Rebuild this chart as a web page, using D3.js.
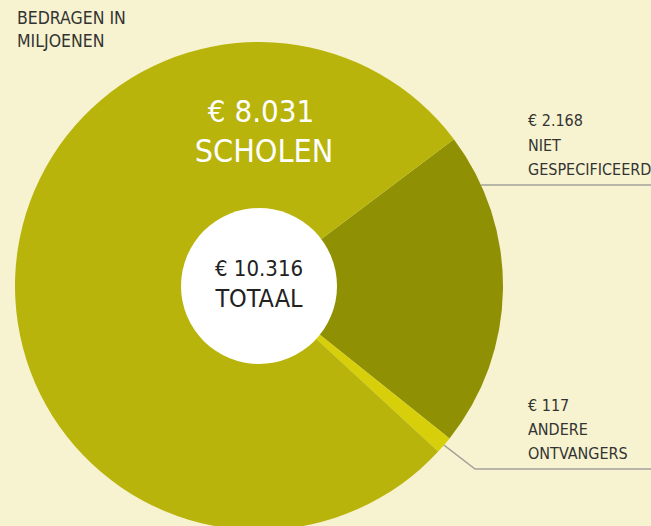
<!DOCTYPE html>
<html>
<head>
<meta charset="utf-8">
<script src="https://cdn.jsdelivr.net/npm/d3@7"></script>
<style>
  html, body { margin: 0; padding: 0; background: #f7f3d0; }
  svg { display: block; }
  text { font-family: "Liberation Sans Narrow", "DejaVu Sans Condensed", sans-serif; }
</style>
</head>
<body>
<div id="chart"></div>
<script>
const width = 651;
const height = 526;

// data (bedragen in miljoenen euro)
const categories = ["NIET GESPECIFICEERD", "ANDERE ONTVANGERS", "SCHOLEN"];
const values = [2168, 117, 8031];
const valueLabels = ["€ 2.168", "€ 117", "€ 8.031"];
const colors = ["#8f9003", "#d8cf0b", "#b8b40b"];
const totalLabel = "€ 10.316";

const cx = 259, cy = 286;
const outerR = 244, innerR = 78;
const startDeg = 53;

var svg = d3.select("#chart").
append("svg").
attr("width", width).
attr("height", height);

svg.append("rect").
attr("width", width).
attr("height", height).
attr("fill", "#f7f3d0");

var pie = d3.pie().
sort(null).
startAngle(startDeg * Math.PI / 180).
endAngle(startDeg * Math.PI / 180 + 2 * Math.PI);

var arcs = pie(values);

var arc = d3.arc().
innerRadius(0).
outerRadius(outerR);

var g = svg.append("g").
attr("transform", "translate(" + cx + "," + cy + ")");

g.selectAll("path").
data(arcs).
enter().
append("path").
attr("d", arc).
attr("fill", (d, i) => colors[i]);

// white centre
g.append("circle").
attr("r", innerR).
attr("fill", "#ffffff");

// title
var title = svg.append("text").
attr("x", 17).
attr("y", 24).
attr("font-size", 17.5).
attr("fill", "#333333");
title.append("tspan").attr("x", 17).text("BEDRAGEN IN");
title.append("tspan").attr("x", 17).attr("dy", 23).text("MILJOENEN");

// centre label
g.append("text").
attr("text-anchor", "middle").
attr("y", -10).
attr("font-size", 22).
attr("fill", "#222222").
text(totalLabel);
g.append("text").
attr("text-anchor", "middle").
attr("y", 21).
attr("font-size", 25).
attr("fill", "#222222").
text("TOTAAL");

// scholen label inside big slice
g.append("text").
attr("text-anchor", "middle").
attr("x", 2).
attr("y", 122 - cy).
attr("font-size", 31).
attr("fill", "#ffffff").
text(valueLabels[2]);
g.append("text").
attr("text-anchor", "middle").
attr("x", 5).
attr("y", 162 - cy).
attr("font-size", 32).
attr("fill", "#ffffff").
text(categories[2]);

// outside labels
const labelX = 528;
var lab1 = svg.append("text").
attr("y", 126).
attr("font-size", 16).
attr("fill", "#333333");
lab1.append("tspan").attr("x", labelX).text(valueLabels[0]);
lab1.append("tspan").attr("x", labelX).attr("dy", 24.5).text("NIET");
lab1.append("tspan").attr("x", labelX).attr("dy", 24.5).text("GESPECIFICEERD");

var lab2 = svg.append("text").
attr("y", 410.5).
attr("font-size", 16).
attr("fill", "#333333");
lab2.append("tspan").attr("x", labelX).text(valueLabels[1]);
lab2.append("tspan").attr("x", labelX).attr("dy", 24).text("ANDERE");
lab2.append("tspan").attr("x", labelX).attr("dy", 24).text("ONTVANGERS");

// leader lines
const line1Y = 185;
const line1X0 = cx + Math.sqrt(outerR * outerR - (line1Y - cy) * (line1Y - cy));
svg.append("line").
attr("x1", line1X0).
attr("y1", line1Y).
attr("x2", width).
attr("y2", line1Y).
attr("stroke", "#a3a29a").
attr("stroke-width", 1.5);

var c2 = d3.arc().innerRadius(outerR).outerRadius(outerR).centroid(arcs[1]);
const line2Y = 469;
svg.append("polyline").
attr("points", [
  [cx + c2[0], cy + c2[1]],
  [cx + c2[0] + (line2Y - cy - c2[1]) * 1.3, line2Y],
  [width, line2Y]
].map(p => p.join(",")).join(" ")).
attr("fill", "none").
attr("stroke", "#a3a29a").
attr("stroke-width", 1.5);
</script>
</body>
</html>
